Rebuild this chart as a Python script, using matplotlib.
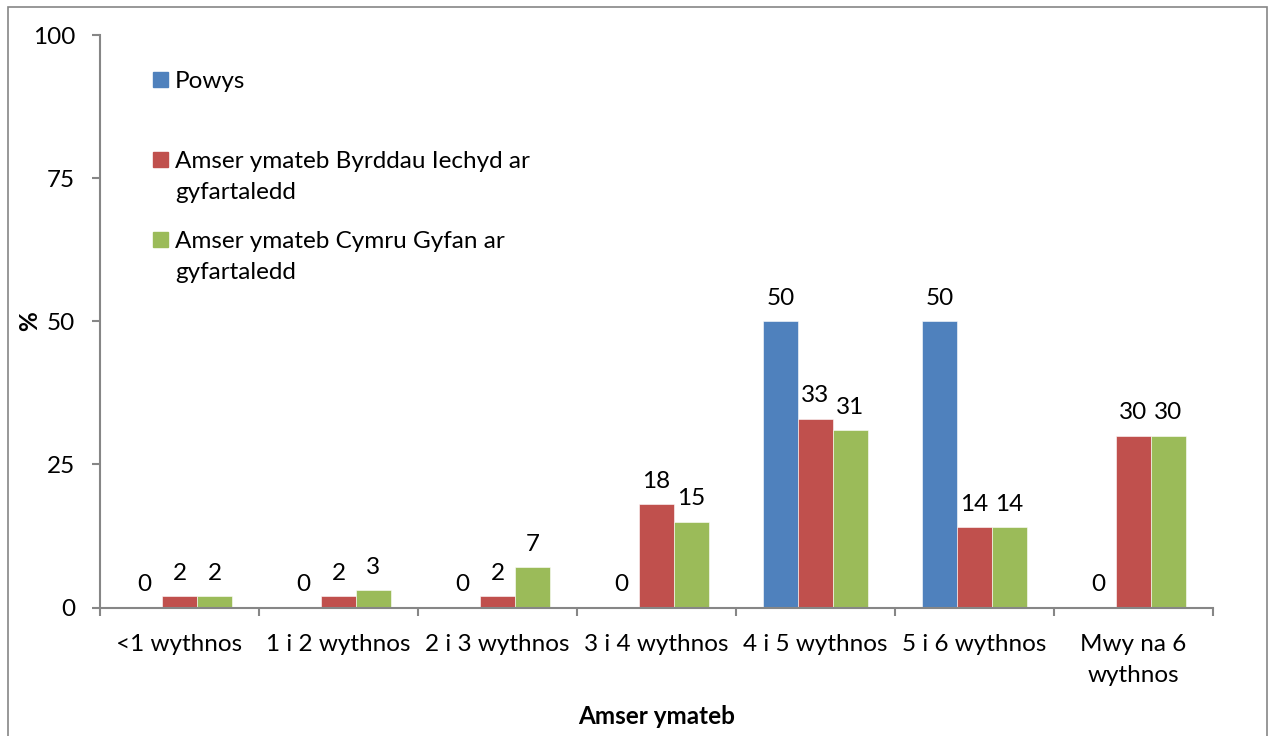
import matplotlib
matplotlib.use('Agg')
import matplotlib.pyplot as plt
import numpy as np
from matplotlib.patches import Rectangle

categories = ['<1 wythnos', '1 i 2 wythnos', '2 i 3 wythnos', '3 i 4 wythnos',
              '4 i 5 wythnos', '5 i 6 wythnos', 'Mwy na 6\nwythnos']
powys = [0, 0, 0, 0, 50, 50, 0]
byrddau = [2, 2, 2, 18, 33, 14, 30]
cymru = [2, 3, 7, 15, 31, 14, 30]
series_names = ['Powys', 'Amser ymateb Byrddau Iechyd ar\ngyfartaledd',
                'Amser ymateb Cymru Gyfan ar\ngyfartaledd']
colors = ['#4F81BD', '#C0504D', '#9BBB59']
grey = '#868686'

plt.rcParams['font.family'] = ['Lato', 'DejaVu Sans']
fs = 17.5

W, H = 1270, 736
fig = plt.figure(figsize=(W / 100, H / 100), dpi=100)
ax = fig.add_axes([100 / W, 1 - 607.5 / H, 1113 / W, 572.5 / H])

x = np.arange(len(categories))
bw = 0.22
for k, (vals, c) in enumerate(zip([powys, byrddau, cymru], colors)):
    pos = x + (k - 1) * bw
    ax.bar(pos, vals, width=bw, color=c, edgecolor='white', linewidth=0.4, zorder=2)
    for px, v in zip(pos, vals):
        ax.annotate(str(v), (px, v), xytext=(0, 9), textcoords='offset points',
                    ha='center', va='bottom', fontsize=fs, color='black')

ax.set_xlim(-0.5, len(categories) - 0.5)
ax.set_ylim(0, 100)
ax.set_yticks([0, 25, 50, 75, 100])
ax.set_xticks(x)
ax.set_xticklabels(categories, fontsize=fs, linespacing=1.6)
ax.set_xticks(np.arange(len(categories) + 1) - 0.5, minor=True)
ax.tick_params(axis='x', which='major', length=0, pad=19)
ax.tick_params(axis='x', which='minor', length=6, width=1.5, color=grey)
ax.tick_params(axis='y', length=6, width=1.5, color=grey, labelsize=fs, pad=12)
for s in ['top', 'right']:
    ax.spines[s].set_visible(False)
for s in ['left', 'bottom']:
    ax.spines[s].set_color(grey)
    ax.spines[s].set_linewidth(1.5)

ax.set_ylabel('%', fontsize=fs, fontweight='bold', va='center')
ax.yaxis.set_label_coords((30 - 100) / 1113, 0.5)
ax.set_xlabel('Amser ymateb', fontsize=fs, fontweight='bold', va='center')
ax.xaxis.set_label_coords(0.5, (607.5 - 717) / 572.5)

# legend drawn by hand to follow the original spacing
leg_y = [79, 159, 239]
for yy, name, c in zip(leg_y, series_names, colors):
    fig.patches.append(Rectangle((153 / W, 1 - (yy + 8) / H), 15 / W, 15 / H,
                                 transform=fig.transFigure, color=c))
    fig.text(175 / W, 1 - (yy - 8) / H, name, fontsize=fs, va='top', ha='left',
             linespacing=1.6)

fig.patches.append(Rectangle((8 / W, -0.01), 1259 / W, 1.01 - 7 / H,
                             transform=fig.transFigure, fill=False,
                             edgecolor=grey, linewidth=1.2))

fig.savefig('out.png', dpi=100)
